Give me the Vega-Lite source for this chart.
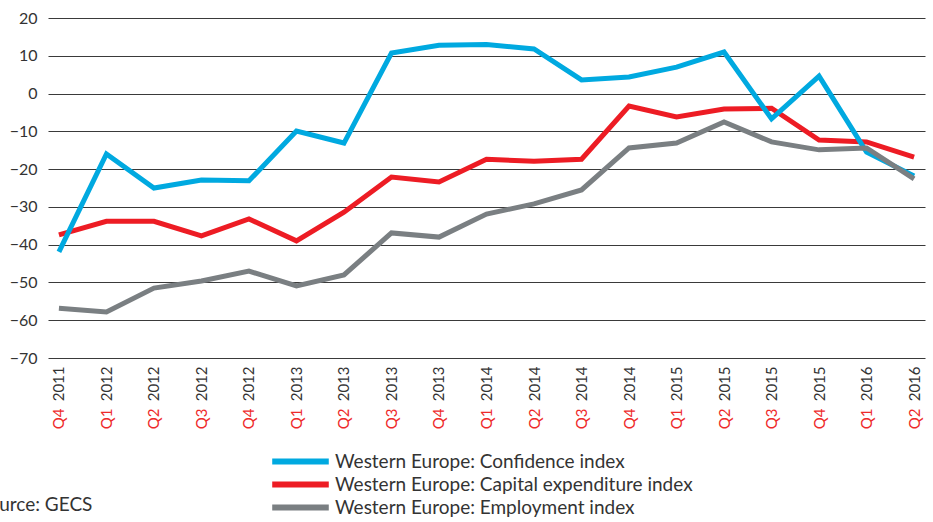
{
  "$schema": "https://vega.github.io/schema/vega-lite/v6.json",
  "width": 877,
  "height": 340,
  "autosize": {"type": "none"},
  "padding": {"left": 48, "top": 18, "right": 8, "bottom": 164},
  "background": "white",
  "title": {
    "text": "Source: GECS",
    "orient": "bottom",
    "anchor": "start",
    "dx": -31,
    "offset": -24,
    "font": "Lato",
    "fontSize": 19,
    "fontWeight": "normal",
    "color": "#333333"
  },
  "config": {
    "view": {"stroke": null},
    "font": "Lato"
  },
  "data": {
    "values": [
      {"q": "Q4 2011", "s": "Western Europe: Capital expenditure index", "v": -37.4},
      {"q": "Q1 2012", "s": "Western Europe: Capital expenditure index", "v": -33.8},
      {"q": "Q2 2012", "s": "Western Europe: Capital expenditure index", "v": -33.8},
      {"q": "Q3 2012", "s": "Western Europe: Capital expenditure index", "v": -37.7},
      {"q": "Q4 2012", "s": "Western Europe: Capital expenditure index", "v": -33.2},
      {"q": "Q1 2013", "s": "Western Europe: Capital expenditure index", "v": -39.0},
      {"q": "Q2 2013", "s": "Western Europe: Capital expenditure index", "v": -31.4},
      {"q": "Q3 2013", "s": "Western Europe: Capital expenditure index", "v": -22.1},
      {"q": "Q4 2013", "s": "Western Europe: Capital expenditure index", "v": -23.4},
      {"q": "Q1 2014", "s": "Western Europe: Capital expenditure index", "v": -17.4},
      {"q": "Q2 2014", "s": "Western Europe: Capital expenditure index", "v": -17.9},
      {"q": "Q3 2014", "s": "Western Europe: Capital expenditure index", "v": -17.4},
      {"q": "Q4 2014", "s": "Western Europe: Capital expenditure index", "v": -3.3},
      {"q": "Q1 2015", "s": "Western Europe: Capital expenditure index", "v": -6.2},
      {"q": "Q2 2015", "s": "Western Europe: Capital expenditure index", "v": -4.1},
      {"q": "Q3 2015", "s": "Western Europe: Capital expenditure index", "v": -3.9},
      {"q": "Q4 2015", "s": "Western Europe: Capital expenditure index", "v": -12.3},
      {"q": "Q1 2016", "s": "Western Europe: Capital expenditure index", "v": -12.8},
      {"q": "Q2 2016", "s": "Western Europe: Capital expenditure index", "v": -16.8},
      {"q": "Q4 2011", "s": "Western Europe: Confidence index", "v": -41.9},
      {"q": "Q1 2012", "s": "Western Europe: Confidence index", "v": -16.0},
      {"q": "Q2 2012", "s": "Western Europe: Confidence index", "v": -25.0},
      {"q": "Q3 2012", "s": "Western Europe: Confidence index", "v": -22.9},
      {"q": "Q4 2012", "s": "Western Europe: Confidence index", "v": -23.1},
      {"q": "Q1 2013", "s": "Western Europe: Confidence index", "v": -9.9},
      {"q": "Q2 2013", "s": "Western Europe: Confidence index", "v": -13.1},
      {"q": "Q3 2013", "s": "Western Europe: Confidence index", "v": 10.7},
      {"q": "Q4 2013", "s": "Western Europe: Confidence index", "v": 12.8},
      {"q": "Q1 2014", "s": "Western Europe: Confidence index", "v": 13.0},
      {"q": "Q2 2014", "s": "Western Europe: Confidence index", "v": 11.8},
      {"q": "Q3 2014", "s": "Western Europe: Confidence index", "v": 3.6},
      {"q": "Q4 2014", "s": "Western Europe: Confidence index", "v": 4.4},
      {"q": "Q1 2015", "s": "Western Europe: Confidence index", "v": 7.0},
      {"q": "Q2 2015", "s": "Western Europe: Confidence index", "v": 11.0},
      {"q": "Q3 2015", "s": "Western Europe: Confidence index", "v": -6.7},
      {"q": "Q4 2015", "s": "Western Europe: Confidence index", "v": 4.6},
      {"q": "Q1 2016", "s": "Western Europe: Confidence index", "v": -15.5},
      {"q": "Q2 2016", "s": "Western Europe: Confidence index", "v": -21.8},
      {"q": "Q4 2011", "s": "Western Europe: Employment index", "v": -56.8},
      {"q": "Q1 2012", "s": "Western Europe: Employment index", "v": -57.8},
      {"q": "Q2 2012", "s": "Western Europe: Employment index", "v": -51.5},
      {"q": "Q3 2012", "s": "Western Europe: Employment index", "v": -49.6},
      {"q": "Q4 2012", "s": "Western Europe: Employment index", "v": -47.0},
      {"q": "Q1 2013", "s": "Western Europe: Employment index", "v": -50.9},
      {"q": "Q2 2013", "s": "Western Europe: Employment index", "v": -48.0},
      {"q": "Q3 2013", "s": "Western Europe: Employment index", "v": -36.9},
      {"q": "Q4 2013", "s": "Western Europe: Employment index", "v": -38.0},
      {"q": "Q1 2014", "s": "Western Europe: Employment index", "v": -31.9},
      {"q": "Q2 2014", "s": "Western Europe: Employment index", "v": -29.2},
      {"q": "Q3 2014", "s": "Western Europe: Employment index", "v": -25.5},
      {"q": "Q4 2014", "s": "Western Europe: Employment index", "v": -14.4},
      {"q": "Q1 2015", "s": "Western Europe: Employment index", "v": -13.1},
      {"q": "Q2 2015", "s": "Western Europe: Employment index", "v": -7.5},
      {"q": "Q3 2015", "s": "Western Europe: Employment index", "v": -12.8},
      {"q": "Q4 2015", "s": "Western Europe: Employment index", "v": -14.9},
      {"q": "Q1 2016", "s": "Western Europe: Employment index", "v": -14.4},
      {"q": "Q2 2016", "s": "Western Europe: Employment index", "v": -22.6}
    ]
  },
  "layer": [
    {
      "mark": {"type": "line", "strokeWidth": 5, "strokeCap": "butt", "strokeJoin": "miter"},
      "encoding": {
        "x": {
          "field": "q",
          "type": "ordinal",
          "sort": null,
          "scale": {"type": "point", "padding": 0.23},
          "axis": {
            "title": null,
            "domain": false,
            "ticks": false,
            "grid": false,
            "labelAngle": -90,
            "labelAlign": "right",
            "labelBaseline": "middle",
            "labelPadding": 8,
            "labelFont": "Lato",
            "labelFontSize": 15,
            "labelColor": "#333333",
            "labelExpr": "split(datum.label, ' ')[1]"
          }
        },
        "y": {
          "field": "v",
          "type": "quantitative",
          "scale": {"domain": [-70, 20], "nice": false, "zero": false},
          "axis": {
            "title": null,
            "values": [-70, -60, -50, -40, -30, -20, -10, 0, 10, 20],
            "domain": false,
            "ticks": false,
            "grid": true,
            "gridColor": "#3a3a3a",
            "gridWidth": 1.2,
            "gridOpacity": 1,
            "labelFont": "Lato",
            "labelFontSize": 16,
            "labelColor": "#333333",
            "labelPadding": 11
          }
        },
        "color": {
          "field": "s",
          "type": "nominal",
          "scale": {
            "domain": ["Western Europe: Confidence index", "Western Europe: Capital expenditure index", "Western Europe: Employment index"],
            "range": ["#00A9E0", "#ED1C24", "#7A7F82"]
          },
          "legend": {
            "title": null,
            "orient": "none",
            "legendX": 242,
            "legendY": 433,
            "direction": "vertical",
            "symbolType": "M-4,0H4",
            "symbolStrokeWidth": 6,
            "symbolSize": 200,
            "labelFont": "Lato",
            "labelFontSize": 19,
            "labelColor": "#333333",
            "labelLimit": 600,
            "rowPadding": -6,
            "labelOffset": 24
          }
        }
      }
    },
    {
      "mark": {"type": "point", "opacity": 0},
      "encoding": {
        "x": {
          "field": "q",
          "type": "ordinal",
          "sort": null,
          "scale": {"type": "point", "padding": 0.23},
          "axis": {
            "title": null,
            "orient": "bottom",
            "domain": false,
            "ticks": false,
            "grid": false,
            "labelAngle": -90,
            "labelAlign": "right",
            "labelBaseline": "middle",
            "labelPadding": 50,
            "labelFont": "Lato",
            "labelFontSize": 15,
            "labelColor": "#EE2A2A",
            "labelExpr": "split(datum.label, ' ')[0]"
          }
        }
      }
    }
  ],
  "resolve": {"axis": {"x": "independent"}}
}
